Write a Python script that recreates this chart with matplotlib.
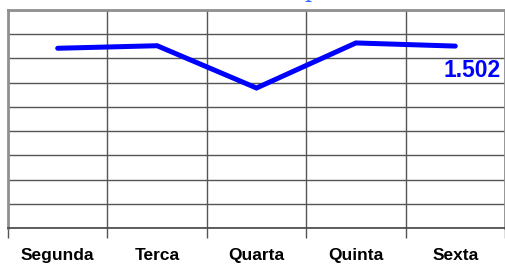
import numpy as np
import matplotlib.pyplot as plt

# dados do grafico
dias = ['Segunda', 'Terca', 'Quarta', 'Quinta', 'Sexta']
valores = [1.484, 1.505, 1.156, 1.528, 1.502]
ultimo_rotulo = '1.502'

fig = plt.figure(figsize=(5.06, 2.65), dpi=100)
ax = fig.add_axes([8/506, 37/265, 497/506, 218/265])

x = np.arange(len(dias)) + 0.5
ax.plot(x, valores, color='#0000ff', lw=3.6, solid_capstyle='round', solid_joinstyle='miter', zorder=3)

ax.set_xlim(0, len(dias))
ax.set_ylim(0, 1.8)
ax.set_xticks(np.arange(len(dias) + 1))
ax.set_xticklabels([])
ax.set_xticks(x, minor=True)
ax.set_xticklabels(dias, minor=True, fontsize=12.5, fontweight='bold',
                   family=['Liberation Sans', 'DejaVu Sans'])
ax.tick_params(axis='x', which='major', length=7, width=1, color='#555555', direction='out')
ax.tick_params(axis='x', which='minor', length=0, pad=14.5)
ax.set_yticks(np.arange(0, 1.81, 0.2))
ax.set_yticklabels([])
ax.tick_params(axis='y', length=0)
ax.grid(True, color='#555555', lw=1)
ax.set_axisbelow(True)

for s in ['left', 'top', 'right']:
    ax.spines[s].set_color('#909090')
    ax.spines[s].set_linewidth(2)
ax.spines['bottom'].set_color('#444444')
ax.spines['bottom'].set_linewidth(1.2)

# rotulo do ultimo ponto
ax.annotate(ultimo_rotulo, (x[-1], valores[-1]), xytext=(45, -13), textcoords='offset pixels',
            ha='right', va='top', fontsize=16.5, fontweight='bold', color='#0000ff',
            family=['Liberation Sans', 'DejaVu Sans'])

# titulo cortado no topo
fig.text(312/506, 1.0 + 3/265, 'p', color='#3366ff', fontsize=16, family='DejaVu Serif',
         ha='center', va='baseline')

fig.savefig('out.png', dpi=100)
